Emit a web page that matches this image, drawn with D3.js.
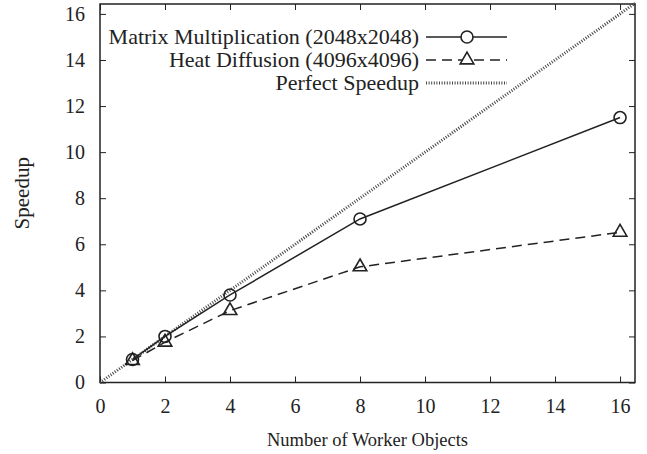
<!DOCTYPE html>
<html>
<head>
<meta charset="utf-8">
<script src="https://cdn.jsdelivr.net/npm/d3@7/dist/d3.min.js"></script>
<style>
  body { margin: 0; background: #fff; }
  text { font-family: "Liberation Serif", "Times New Roman", serif; fill: #222; }
</style>
</head>
<body>
<svg id="chart" width="647" height="454"></svg>
<script>
const workers = [1, 2, 4, 8, 16];
const matrixSpeedup = [1, 2, 3.8, 7.1, 11.5];
const heatSpeedup = [0.95, 1.75, 3.12, 5.02, 6.52];
const perfectX = [0, 16.46];
const xTicks = [0, 2, 4, 6, 8, 10, 12, 14, 16];
const yTicks = [0, 2, 4, 6, 8, 10, 12, 14, 16];
const legendLabels = ['Matrix Multiplication (2048x2048)', 'Heat Diffusion (4096x4096)', 'Perfect Speedup'];

const MARGIN = { top: 4, right: 12, bottom: 71.5, left: 100 };
const WIDTH = 647 - MARGIN.left - MARGIN.right;
const HEIGHT = 454 - MARGIN.top - MARGIN.bottom;

const svg = d3.select('#chart');
const chart = svg.append('g').attr('transform', `translate(${MARGIN.left},${MARGIN.top})`);

const x = d3.scaleLinear().domain([0, 16.46]).range([0, WIDTH]);
const y = d3.scaleLinear().domain([0, 16.43]).range([HEIGHT, 0]);

// axes with inward ticks, mirrored on top/right
const tickStyle = g => {
  g.select('.domain').remove();
  g.selectAll('line').attr('stroke', '#222').attr('stroke-width', 1);
  g.selectAll('text').attr('font-size', 20).attr('fill', '#222');
};
chart.append('g').attr('transform', `translate(0,${HEIGHT})`)
  .call(d3.axisBottom(x).tickValues(xTicks).tickSize(-6).tickPadding(16))
  .call(tickStyle);
chart.append('g')
  .call(d3.axisLeft(y).tickValues(yTicks).tickSize(-6).tickPadding(15))
  .call(tickStyle);
chart.append('g')
  .call(d3.axisTop(x).tickValues(xTicks).tickSize(-6).tickFormat(''))
  .call(tickStyle);
chart.append('g').attr('transform', `translate(${WIDTH},0)`)
  .call(d3.axisRight(y).tickValues(yTicks).tickSize(-6).tickFormat(''))
  .call(tickStyle);

chart.append('rect')
  .attr('width', WIDTH).attr('height', HEIGHT)
  .attr('fill', 'none').attr('stroke', '#222').attr('stroke-width', 1.5);

const line = d3.line().x(d => x(d[0])).y(d => y(d[1]));

// perfect speedup
chart.append('path')
  .datum(perfectX.map(v => [v, v]))
  .attr('d', line)
  .attr('fill', 'none').attr('stroke', '#444').attr('stroke-width', 3)
  .attr('stroke-dasharray', '1,1.6');

const matrixPts = workers.map((w, i) => [w, matrixSpeedup[i]]);
const heatPts = workers.map((w, i) => [w, heatSpeedup[i]]);

chart.append('path').datum(heatPts).attr('d', line)
  .attr('fill', 'none').attr('stroke', '#222').attr('stroke-width', 1.5)
  .attr('stroke-dasharray', '10,6');
chart.append('path').datum(matrixPts).attr('d', line)
  .attr('fill', 'none').attr('stroke', '#222').attr('stroke-width', 1.5);

const tri = d3.symbol().type(d3.symbolTriangle).size(80);

chart.selectAll('.tri').data(heatPts).enter()
  .append('path').attr('class', 'tri')
  .attr('d', tri)
  .attr('transform', d => `translate(${x(d[0])},${y(d[1])})`)
  .attr('fill', 'none').attr('stroke', '#222').attr('stroke-width', 1.6);

chart.selectAll('.circ').data(matrixPts).enter()
  .append('circle').attr('class', 'circ')
  .attr('cx', d => x(d[0])).attr('cy', d => y(d[1])).attr('r', 6)
  .attr('fill', 'none').attr('stroke', '#222').attr('stroke-width', 1.6);

// legend
const legend = svg.append('g');
const legendY = [37, 60, 83];
legendLabels.forEach((label, i) => {
  const ly = legendY[i];
  legend.append('text')
    .attr('x', 419).attr('y', ly).attr('dy', '0.33em')
    .attr('text-anchor', 'end').attr('font-size', 22)
    .text(label);
  const seg = legend.append('line')
    .attr('x1', 426).attr('x2', 507).attr('y1', ly).attr('y2', ly)
    .attr('stroke', '#222').attr('stroke-width', 1.5);
  if (i === 0) {
    legend.append('circle').attr('cx', 467).attr('cy', ly).attr('r', 6)
      .attr('fill', '#fff').attr('stroke', '#222').attr('stroke-width', 1.6);
  } else if (i === 1) {
    seg.attr('stroke-dasharray', '10,6');
    legend.append('path').attr('d', tri)
      .attr('transform', `translate(467,${ly})`)
      .attr('fill', '#fff').attr('stroke', '#222').attr('stroke-width', 1.6);
  } else {
    seg.attr('stroke', '#444').attr('stroke-width', 3).attr('stroke-dasharray', '1,1.6');
  }
});

// axis titles
svg.append('text')
  .attr('x', MARGIN.left + WIDTH / 2).attr('y', 446)
  .attr('text-anchor', 'middle').attr('font-size', 18.5)
  .text('Number of Worker Objects');
svg.append('text')
  .attr('transform', `translate(29,${MARGIN.top + HEIGHT / 2}) rotate(-90)`)
  .attr('text-anchor', 'middle').attr('font-size', 21)
  .text('Speedup');
</script>
</body>
</html>
